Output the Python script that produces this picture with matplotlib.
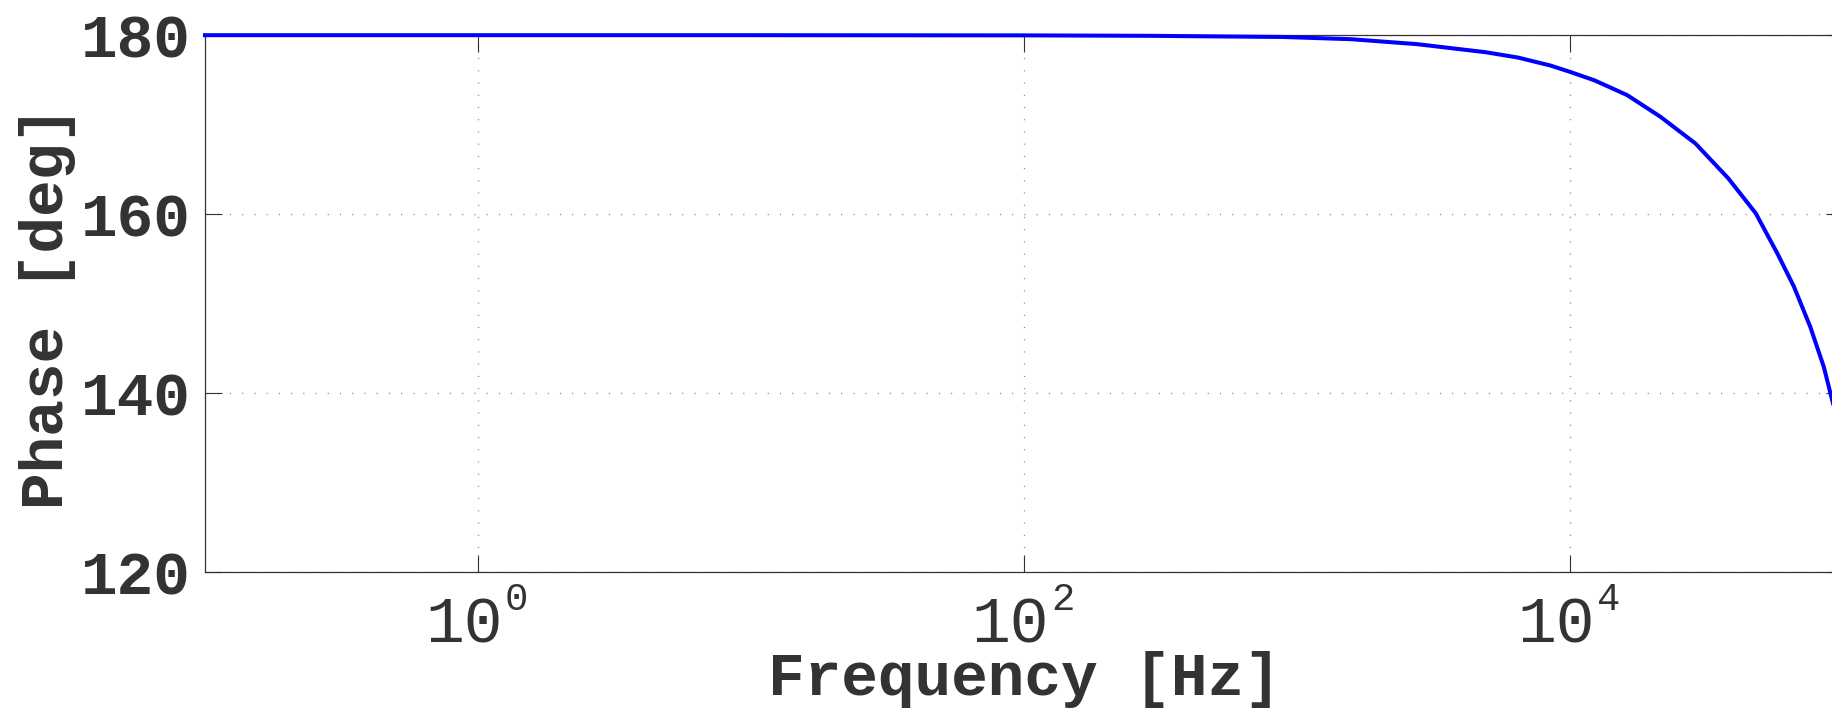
import matplotlib
matplotlib.use("Agg")
import matplotlib.pyplot as plt
from matplotlib.transforms import ScaledTranslation

# datos
frecuencia = [0.1, 1, 10, 100, 290, 890, 1580, 2750, 4900, 6450, 8500, 10000,
              12300, 16200, 21400, 28800, 38000, 47900, 57500, 66100, 75900,
              85100, 92000, 100000]
fase = [180.0, 180.0, 180.0, 179.98, 179.93, 179.8, 179.55, 179.0, 178.1,
        177.5, 176.6, 175.9, 174.95, 173.3, 170.9, 167.9, 164.0, 160.1,
        155.6, 151.9, 147.4, 142.9, 138.8, 134.5]

xticks = [1, 100, 10000]
xtick_base = ['10', '10', '10']
xtick_exp = ['0', '2', '4']
yticks = [120, 140, 160, 180]

gris = '#333333'
plt.rcParams['font.family'] = ['Liberation Mono', 'DejaVu Sans Mono']

fig = plt.figure(figsize=(18.32, 7.08), dpi=100)
ax = fig.add_axes([0.1119, 0.1921, 0.8941, 0.7582])

ax.semilogx(frecuencia, fase, color='#0000FF', linewidth=2.9, clip_on=False, zorder=5)

ax.set_xlim(0.1, 1e5)
ax.set_ylim(120, 180)
ax.set_xticks(xticks)
ax.set_xticklabels(xtick_base)
ax.set_xticks([], minor=True)
ax.set_yticks(yticks)

ax.grid(True, color='#8a8a8a', linestyle=(0, (0.8, 8)), linewidth=1.0)
ax.tick_params(which='both', direction='in', top=True, right=True,
               length=12, width=0.8, color=gris, labelcolor=gris)
ax.tick_params(axis='x', pad=17, labelsize=46.5)
ax.tick_params(axis='y', pad=10, labelsize=44)
for lab in ax.get_yticklabels():
    lab.set_fontweight('bold')
# el "10" va un poco a la izquierda para dejar sitio al exponente
for lab in ax.get_xticklabels():
    lab.set_transform(lab.get_transform() + ScaledTranslation(-0.14, 0, fig.dpi_scale_trans))
for t, e in zip(xticks, xtick_exp):
    ax.annotate(e, xy=(t, 0), xycoords=('data', 'axes fraction'),
                xytext=(19.5, -27.3), textcoords='offset points',
                ha='left', va='baseline', fontsize=28, color=gris)

for s in ax.spines.values():
    s.set_color(gris)
    s.set_linewidth(0.9)

ax.set_xlabel('Frequency [Hz]', fontsize=44, color=gris, fontweight='bold')
ax.set_ylabel('Phase [deg]', fontsize=44, color=gris, fontweight='bold')
ax.xaxis.set_label_coords(0.5, -0.145)
ax.yaxis.set_label_coords(-0.0788, 0.492)

fig.savefig('out.png', dpi=100)
